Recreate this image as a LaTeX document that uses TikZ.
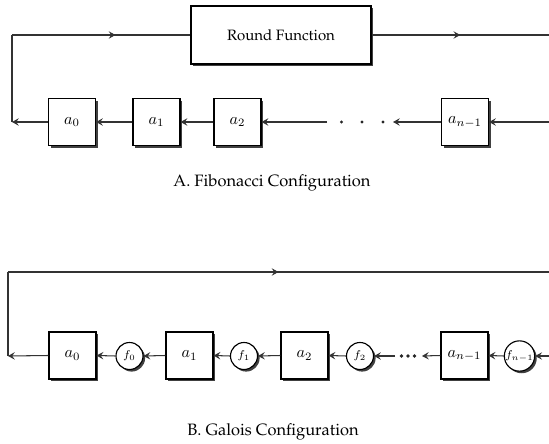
\documentclass[tikz,border=0pt]{standalone}
\usepackage[T1]{fontenc}
\renewcommand{\rmdefault}{ppl}
\usetikzlibrary{arrows.meta,shadows,decorations.markings}

\tikzset{
  wire/.style={line width=0.65pt, draw=black!80},
  tip/.style={wire, -{Stealth[length=4.2pt,width=4.6pt,inset=1.6pt]}},
  midtip/.style={wire, postaction={decorate}, decoration={markings,
      mark=at position #1 with {\arrow{Stealth[length=4.2pt,width=4.6pt,inset=1.6pt]}}}},
  midtip/.default=0.5,
  boxshadow/.style={drop shadow={shadow xshift=1.3pt, shadow yshift=-1.3pt, fill=black!75, opacity=1}},
  reg/.style={draw, line width=0.7pt, fill=white, boxshadow, minimum width=47*0.62pt,
      minimum height=47*0.62pt, inner sep=0pt},
  fn/.style={circle, draw, line width=0.7pt, fill=white, boxshadow, minimum size=27*0.62pt,
      inner sep=0pt, font=\scriptsize},
  rfbox/.style={draw, line width=0.7pt, fill=white, boxshadow, minimum width=180*0.62pt,
      minimum height=58*0.62pt, font=\fontsize{9.3}{11}\selectfont},
  dotmark/.style={fill=black!85},
  caption/.style={font=\fontsize{10.2}{12}\selectfont},
}

\begin{document}
\begin{tikzpicture}[x=0.62pt, y=-0.62pt]
\useasboundingbox (0,0) rectangle (549,444);

% ---------- Fibonacci configuration ----------
\node[rfbox] (rf) at (281,35) {Round Function};
\node[reg] (a0) at (72,122) {$a_0$};
\node[reg] (a1) at (156.5,122) {$a_1$};
\node[reg] (a2) at (237.5,122) {$a_2$};
\node[reg] (an) at (465,122) {$a_{n-1}$};

\coordinate (tl) at (12,35);
\coordinate (bl) at (12,122);
\coordinate (tr) at (549,35);
\coordinate (rin) at (549,122);
\coordinate (dl) at (327,122);
\coordinate (dr) at (393,122);

\draw[midtip=0.58] (tl) -- (rf.west);
\draw[wire] (bl) -- (tl);
\draw[midtip] (rf.east) -- (tr);
\draw[tip] (a0.west) -- (bl);
\draw[tip] (a1.west) -- (a0.east);
\draw[tip] (a2.west) -- (a1.east);
\draw[tip] (dl) -- (a2.east);
\draw[tip] (an.west) -- (dr);
\draw[tip] (rin) -- (an.east);
\foreach \x in {341.5,362,383}
  \fill[dotmark] (\x,122) circle (1.7);

\node[caption] (capA) at (272,183) {A. Fibonacci Configuration};

% ---------- Galois configuration ----------
\node[reg] (b0) at (72.5,355.5) {$a_0$};
\node[reg] (b1) at (189.5,355.5) {$a_1$};
\node[reg] (b2) at (304.5,355.5) {$a_2$};
\node[reg] (bn) at (464.5,355.5) {$a_{n-1}$};
\node[fn] (f0) at (129.5,356) {$f_0$};
\node[fn] (f1) at (244,356) {$f_1$};
\node[fn] (f2) at (360,356) {$f_2$};
\node[fn] (fn1) at (519.5,356) {$f_{n-1}$};

\coordinate (gl) at (8,272);
\coordinate (gbl) at (8,356);
\coordinate (gr) at (549,272);
\coordinate (gin) at (549,356);
\coordinate (gdl) at (395,356);
\coordinate (gdr) at (422,356);

\draw[wire] (gbl) -- (gl);
\draw[midtip] (gl) -- (gr);
\draw[tip] (b0.west) -- (gbl);
\draw[tip] (f0.west) -- (b0.east);
\draw[tip] (b1.west) -- (f0.east);
\draw[tip] (f1.west) -- (b1.east);
\draw[tip] (b2.west) -- (f1.east);
\draw[tip] (f2.west) -- (b2.east);
\draw[tip] (gdl) -- (f2.east);
\draw[tip] (bn.west) -- (gdr);
\draw[tip] (fn1.west) -- (bn.east);
\draw[tip] (gin) -- (fn1.east);
\foreach \x in {401.5,408,414.5}
  \fill[dotmark] (\x,356) circle (1.9);

\node[caption] (capB) at (273,432) {B. Galois Configuration};
\end{tikzpicture}
\end{document}
